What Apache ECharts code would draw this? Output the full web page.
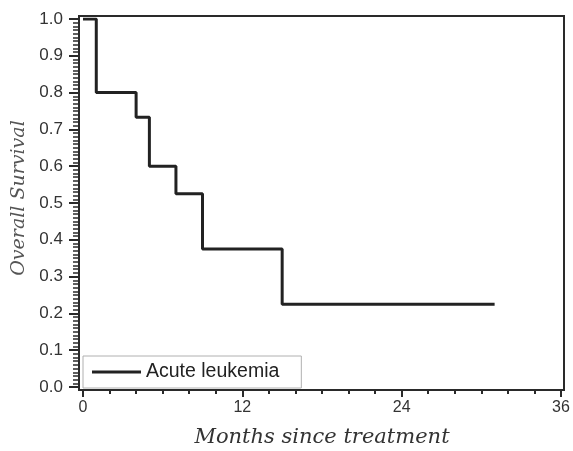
<!DOCTYPE html>
<html>
<head>
<meta charset="utf-8">
<script src="https://cdn.jsdelivr.net/npm/echarts@6/dist/echarts.min.js"></script>
<style>html,body{margin:0;padding:0;background:#fff;}#c{width:573px;height:451px;}</style>
</head>
<body>
<div id="c"></div>
<script>
// Data
var seriesName = 'Acute leukemia';
var months = [0, 1, 4, 5, 7, 9, 15, 31];
var survival = [1.0, 0.8, 0.733, 0.6, 0.525, 0.375, 0.225, 0.225];
var xTitle = 'Months since treatment';
var yTitle = 'Overall Survival';

var points = months.map(function (m, i) { return [m, survival[i]]; });

var ink = '#2a2a2a';
var gb = {outerBoundsMode: 'none', containLabel: false};
function g(o) { return Object.assign({}, gb, o); }

var chart = echarts.init(document.getElementById('c'), null, {renderer: 'canvas'});
chart.setOption({
  animation: false,
  backgroundColor: '#ffffff',
  grid: [
    g({left: 79, right: 9, top: 16, bottom: 61, show: true, borderColor: ink, borderWidth: 2, backgroundColor: 'transparent'}), // frame
    g({left: 79, right: 12, top: 19, bottom: 64}),  // y-axis display
    g({left: 83, right: 12, top: 19, bottom: 61}),  // x-axis display
    g({left: 83, right: 12, top: 19, bottom: 64})   // data
  ],
  legend: {
    left: 83, top: 356,
    data: [seriesName],
    icon: 'path://M0,0L49,0L49,3L0,3Z',
    itemWidth: 49, itemHeight: 3,
    itemGap: 12,
    padding: [6, 22, 6, 9],
    borderColor: '#b0b0b0', borderWidth: 1,
    textStyle: {fontFamily: 'Liberation Sans', fontSize: 19.5, color: '#222'}
  },
  xAxis: [
    {gridIndex: 0, type: 'value', min: 0, max: 1, show: false},
    {gridIndex: 1, type: 'value', min: 0, max: 1, show: false},
    {
      gridIndex: 2, type: 'value', min: 0, max: 36, interval: 12,
      axisLine: {show: false},
      axisTick: {show: true, inside: false, length: 7, lineStyle: {color: ink, width: 2}},
      minorTick: {show: true, splitNumber: 6, length: 4, lineStyle: {color: ink, width: 2}},
      splitLine: {show: false},
      axisLabel: {margin: 10, fontFamily: 'Liberation Sans', fontSize: 16, color: '#333'},
      name: xTitle, nameLocation: 'middle', nameGap: 37,
      nameTextStyle: {fontFamily: 'DejaVu Serif', fontStyle: 'italic', fontSize: 21, color: '#333'}
    },
    {gridIndex: 3, type: 'value', min: 0, max: 36, show: false}
  ],
  yAxis: [
    {gridIndex: 0, type: 'value', min: 0, max: 1, show: false},
    {
      gridIndex: 1, type: 'value', min: 0, max: 1, interval: 0.1,
      axisLine: {show: true, lineStyle: {color: ink, width: 2}},
      axisTick: {show: true, inside: false, length: 10, lineStyle: {color: ink, width: 2}},
      minorTick: {show: true, splitNumber: 10, length: 6, lineStyle: {color: ink, width: 1.5}},
      splitLine: {show: false},
      axisLabel: {margin: 16, fontFamily: 'Liberation Sans', fontSize: 17, color: '#333',
        formatter: function (v) { return v.toFixed(1); }},
      name: yTitle, nameLocation: 'middle', nameGap: 49,
      nameTextStyle: {fontFamily: 'DejaVu Serif', fontStyle: 'italic', fontSize: 19, color: '#555',
        padding: [0, 0, 0, 10]}
    },
    {gridIndex: 2, type: 'value', min: 0, max: 1, show: false},
    {gridIndex: 3, type: 'value', min: 0, max: 1, show: false}
  ],
  series: [{
    name: seriesName, type: 'line', xAxisIndex: 3, yAxisIndex: 3,
    step: 'end', symbol: 'none', data: points,
    lineStyle: {color: '#222', width: 3},
    itemStyle: {color: '#222'}
  }]
});
</script>
</body>
</html>
